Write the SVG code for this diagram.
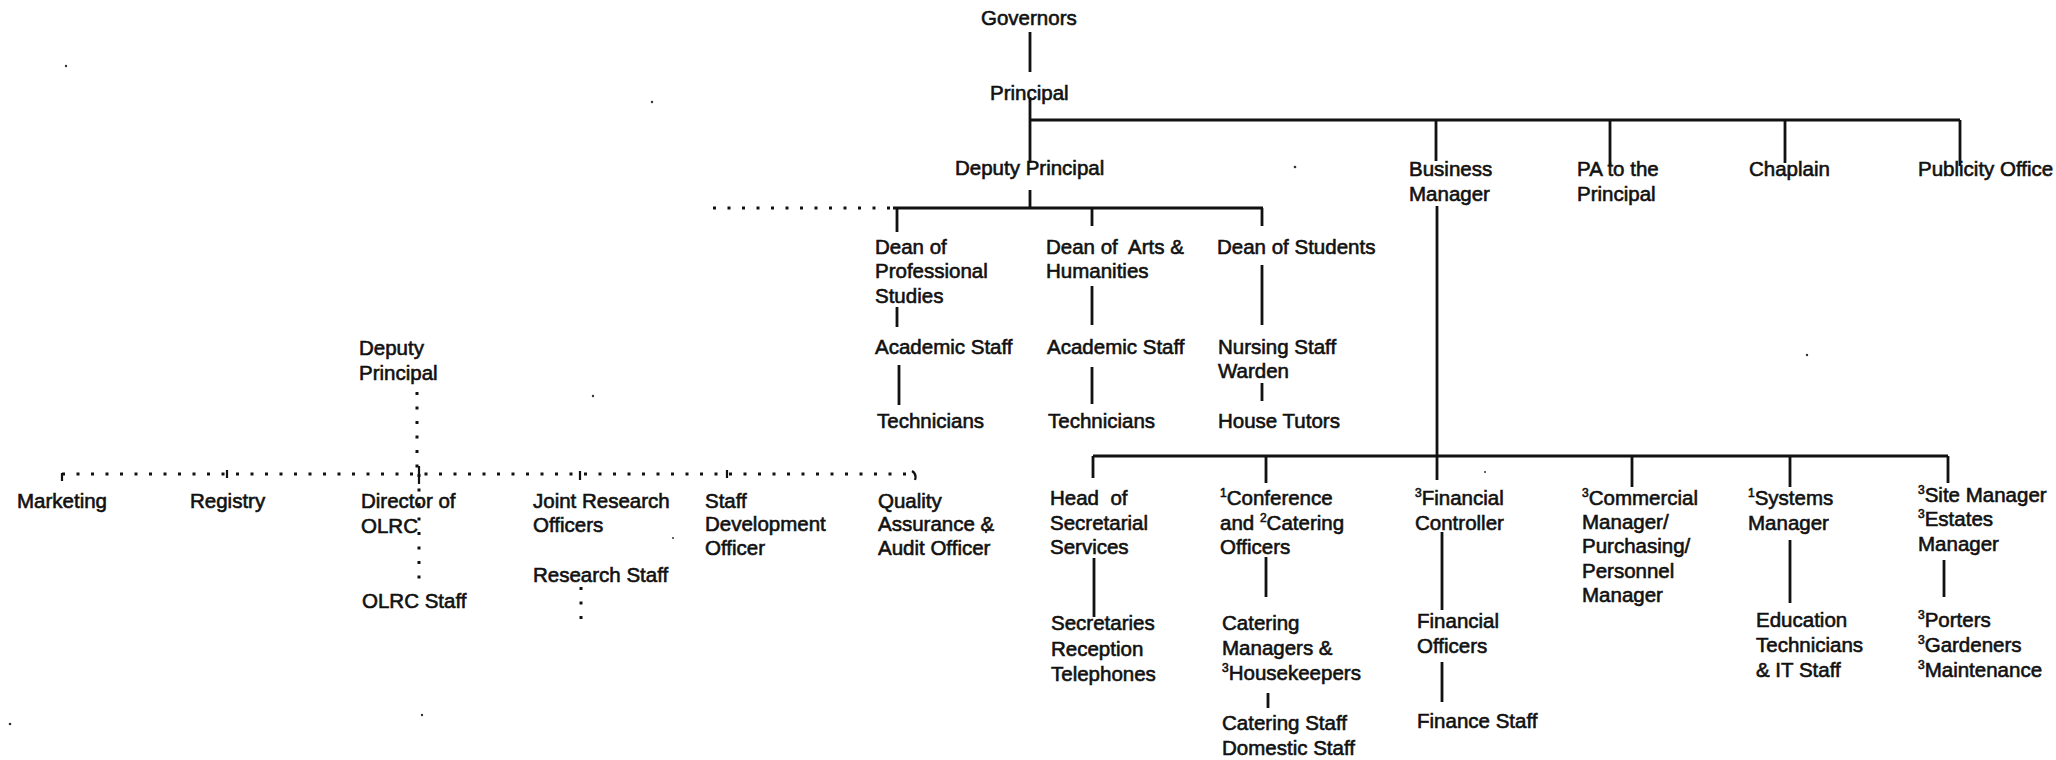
<svg xmlns="http://www.w3.org/2000/svg" width="2056" height="760" viewBox="0 0 2056 760">
<style>
text{font-family:"Liberation Sans",Arial,sans-serif;font-size:20.5px;fill:#111;stroke:#111;stroke-width:0.6}
.sup{font-size:12px}
.solid{stroke:#111;stroke-width:2.8;fill:none;stroke-linecap:butt}
.dot{stroke:#111;stroke-width:3;fill:none;stroke-dasharray:3 11.5}
.tick{stroke:#111;stroke-width:2.2;fill:none}
.speck{fill:#333}
</style>
<rect width="2056" height="760" fill="#fff"/>
<g id="connectors">
<path class="solid" d="M1030 32V72M1030 97V163M1030 120H1960M1436 120V161M1610 120V166M1785 120V163M1960 120V166M1030 190V208M893 208H1263M897 208V232M1092 208V226M1262 208V226M897 307V327M899 365V405M1092 286V325M1092 367V404M1262 265V325M1262 383V401M1437 206V480M1093 456H1948M1093 456V478M1266 456V483M1632 456V487M1790 456V487M1948 456V483M1094 558V617M1266 557V597M1268 693V708M1442 532V610M1442 662V702M1790 540V603M1944 560V597"/>
<path class="dot" d="M890 208H706M417 392V474M62 474H915M419 474V590M581 587V624"/>
<path class="tick" d="M62 473V481M227 470V478M419 466V484M580 471V480M727 470V478M912 471Q917 474 915 480"/>
</g>
<g id="governors"><text x="981" y="25">Governors</text></g>
<g id="principal"><text x="990" y="100">Principal</text></g>
<g id="deputy-principal"><text x="955" y="175">Deputy Principal</text></g>
<g id="business-manager"><text x="1409" y="176">Business</text><text x="1409" y="201">Manager</text></g>
<g id="pa-to-principal"><text x="1577" y="176">PA to the</text><text x="1577" y="201">Principal</text></g>
<g id="chaplain"><text x="1749" y="176">Chaplain</text></g>
<g id="publicity-officer"><text x="1918" y="176">Publicity Office</text></g>
<g id="dean-professional"><text x="875" y="254">Dean of</text><text x="875" y="278">Professional</text><text x="875" y="303">Studies</text></g>
<g id="academic-staff-1"><text x="875" y="354">Academic Staff</text></g>
<g id="technicians-1"><text x="877" y="428">Technicians</text></g>
<g id="dean-arts"><text x="1046" y="254" xml:space="preserve">Dean of  Arts &amp;</text><text x="1046" y="278">Humanities</text></g>
<g id="academic-staff-2"><text x="1047" y="354">Academic Staff</text></g>
<g id="technicians-2"><text x="1048" y="428">Technicians</text></g>
<g id="dean-students"><text x="1217" y="254">Dean of Students</text></g>
<g id="nursing-warden"><text x="1218" y="354">Nursing Staff</text><text x="1218" y="378">Warden</text></g>
<g id="house-tutors"><text x="1218" y="428">House Tutors</text></g>
<g id="deputy-principal-2"><text x="359" y="355">Deputy</text><text x="359" y="380">Principal</text></g>
<g id="marketing"><text x="17" y="508">Marketing</text></g>
<g id="registry"><text x="190" y="508">Registry</text></g>
<g id="director-olrc"><text x="361" y="508">Director of</text><text x="361" y="533">OLRC</text></g>
<g id="olrc-staff"><text x="362" y="608">OLRC Staff</text></g>
<g id="joint-research"><text x="533" y="508">Joint Research</text><text x="533" y="532">Officers</text></g>
<g id="research-staff"><text x="533" y="582">Research Staff</text></g>
<g id="staff-development"><text x="705" y="508">Staff</text><text x="705" y="531">Development</text><text x="705" y="555">Officer</text></g>
<g id="quality-assurance"><text x="878" y="508">Quality</text><text x="878" y="531">Assurance &amp;</text><text x="878" y="555">Audit Officer</text></g>
<g id="head-secretarial"><text x="1050" y="505" xml:space="preserve">Head  of</text><text x="1050" y="530">Secretarial</text><text x="1050" y="554">Services</text></g>
<g id="secretaries"><text x="1051" y="630">Secretaries</text><text x="1051" y="656">Reception</text><text x="1051" y="681">Telephones</text></g>
<g id="conference-catering"><text x="1220" y="505"><tspan class="sup" dy="-8">1</tspan><tspan dy="8">Conference</tspan></text><text x="1220" y="530">and <tspan class="sup" dy="-8">2</tspan><tspan dy="8">Catering</tspan></text><text x="1220" y="554">Officers</text></g>
<g id="catering-managers"><text x="1222" y="630">Catering</text><text x="1222" y="655">Managers &amp;</text><text x="1222" y="680"><tspan class="sup" dy="-8">3</tspan><tspan dy="8">Housekeepers</tspan></text></g>
<g id="catering-staff"><text x="1222" y="730">Catering Staff</text><text x="1222" y="755">Domestic Staff</text></g>
<g id="financial-controller"><text x="1415" y="505"><tspan class="sup" dy="-8">3</tspan><tspan dy="8">Financial</tspan></text><text x="1415" y="530">Controller</text></g>
<g id="financial-officers"><text x="1417" y="628">Financial</text><text x="1417" y="653">Officers</text></g>
<g id="finance-staff"><text x="1417" y="728">Finance Staff</text></g>
<g id="commercial-manager"><text x="1582" y="505"><tspan class="sup" dy="-8">3</tspan><tspan dy="8">Commercial</tspan></text><text x="1582" y="529">Manager/</text><text x="1582" y="553">Purchasing/</text><text x="1582" y="578">Personnel</text><text x="1582" y="602">Manager</text></g>
<g id="systems-manager"><text x="1748" y="505"><tspan class="sup" dy="-8">1</tspan><tspan dy="8">Systems</tspan></text><text x="1748" y="530">Manager</text></g>
<g id="education-technicians"><text x="1756" y="627">Education</text><text x="1756" y="652">Technicians</text><text x="1756" y="677">&amp; IT Staff</text></g>
<g id="site-estates"><text x="1918" y="502"><tspan class="sup" dy="-8">3</tspan><tspan dy="8">Site Manager</tspan></text><text x="1918" y="526"><tspan class="sup" dy="-8">3</tspan><tspan dy="8">Estates</tspan></text><text x="1918" y="551">Manager</text></g>
<g id="porters-gardeners"><text x="1918" y="627"><tspan class="sup" dy="-8">3</tspan><tspan dy="8">Porters</tspan></text><text x="1918" y="652"><tspan class="sup" dy="-8">3</tspan><tspan dy="8">Gardeners</tspan></text><text x="1918" y="677"><tspan class="sup" dy="-8">3</tspan><tspan dy="8">Maintenance</tspan></text></g>
<g id="scan-specks">
<circle class="speck" cx="66" cy="66" r="1.2"/><circle class="speck" cx="652" cy="102" r="1.2"/><circle class="speck" cx="1295" cy="167" r="1.3"/><circle class="speck" cx="1807" cy="355" r="1.2"/><circle class="speck" cx="593" cy="396" r="1.2"/><circle class="speck" cx="422" cy="715" r="1.2"/><circle class="speck" cx="10" cy="724" r="1.3"/><circle class="speck" cx="986" cy="532" r="1.2"/><circle class="speck" cx="673" cy="538" r="1"/><circle class="speck" cx="1485" cy="472" r="1"/>
</g>
</svg>
